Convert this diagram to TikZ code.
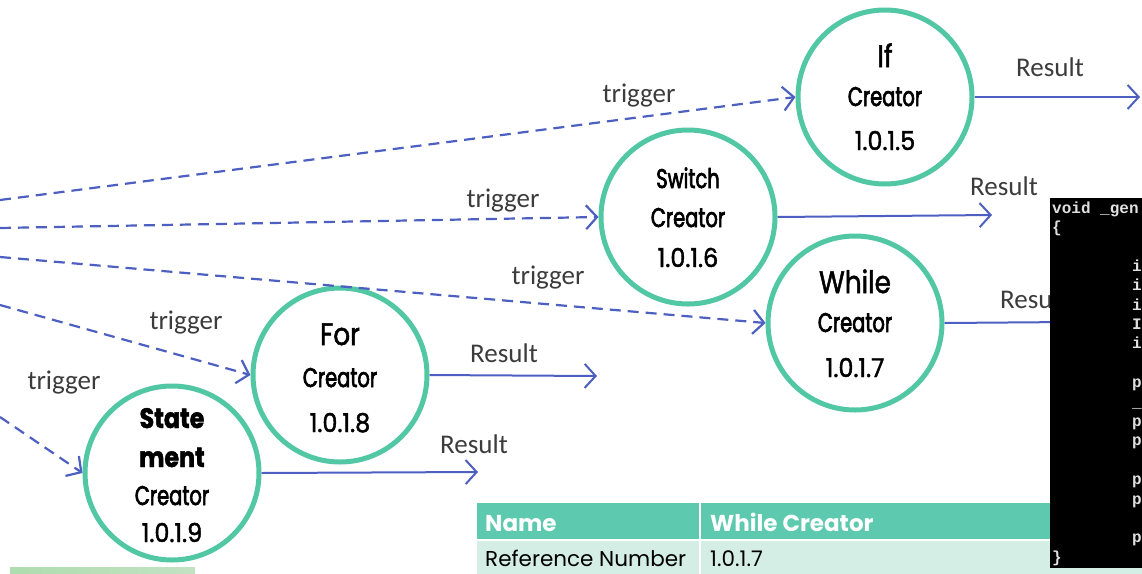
\documentclass[tikz,border=0pt]{standalone}
\usepackage{fontspec}
\usetikzlibrary{arrows.meta}

% fonts
\newfontfamily\lblfont{Carlito}
\newfontfamily\wordfont[FakeStretch=0.85,FakeBold=1.6]{Poppins}
\newfontfamily\crtfont[FakeStretch=0.72,FakeBold=2.4]{Poppins}
\newfontfamily\numfont[FakeStretch=0.92,FakeBold=1.6]{Poppins}
\newfontfamily\tabfont{Poppins}
\newfontfamily\codefont{Liberation Mono}

% colours
\definecolor{ringteal}{HTML}{52C7A4}
\definecolor{flowblue}{HTML}{4D5FC1}
\definecolor{labelgray}{HTML}{3C3C3C}
\definecolor{headteal}{HTML}{5DC9AE}
\definecolor{rowteal}{HTML}{D4EEE5}

\tikzset{
  proc/.style={circle, draw=ringteal, line width=5pt, fill=white,
               minimum size=174pt, inner sep=0pt},
  trig/.style={draw=flowblue, line width=2.2pt, dash pattern=on 11pt off 7pt,
               -{Straight Barb[length=11pt,width=24pt]}},
  res/.style={draw=flowblue, line width=2pt,
              -{Straight Barb[length=11pt,width=24pt]}},
  lbl/.style={font=\lblfont\fontsize{27}{30}\selectfont, text=labelgray, inner sep=0pt},
  bigword/.style={font=\wordfont\fontsize{31}{33}\selectfont, anchor=base, inner sep=0pt},
  boldword/.style={font=\wordfont\bfseries\fontsize{28}{30}\selectfont, anchor=base, inner sep=0pt},
  crt/.style={font=\crtfont\fontsize{27}{29}\selectfont, anchor=base, inner sep=0pt},
  swt/.style={font=\crtfont\fontsize{27}{29}\selectfont, anchor=base, inner sep=0pt},
  num/.style={font=\numfont\fontsize{26}{28}\selectfont, anchor=base, inner sep=0pt},
  headtxt/.style={font=\tabfont\bfseries\fontsize{23}{25}\selectfont, text=white,
                  anchor=base west, inner sep=0pt},
  celltxt/.style={font=\tabfont\fontsize{21.5}{24}\selectfont, text=black,
                  anchor=base west, inner sep=0pt},
  codetxt/.style={font=\codefont\bfseries\fontsize{16}{18}\selectfont, text=white!88!black,
                  anchor=base west, inner sep=0pt},
}

\begin{document}
\begin{tikzpicture}[x=1pt,y=-1pt]
\useasboundingbox (0,0) rectangle (1142,573);
\clip (0,0) rectangle (1142,573);
\fill[white] (0,0) rectangle (1142,573);

% strip of a photo at the lower left
\shade[left color=green!40!gray!45!white, middle color=yellow!60!green!55!white, right color=green!35!gray!35!white]
  (10,567) rectangle (195,574);

% property table
\fill[headteal] (477,503) rectangle (1142,539);
\fill[rowteal] (477,541) rectangle (1142,574);
\fill[white] (699,503) rectangle (701,574);
\node[headtxt] (hname) at (485,531) {Name};
\node[headtxt] (hval) at (710,531) {While Creator};
\node[celltxt] (cname) at (485,566) {Reference Number};
\node[celltxt] (cval) at (710,566) {1.0.1.7};

% free ends of the connectors
\coordinate (s1) at (0,200);
\coordinate (s2) at (0,228);
\coordinate (s3) at (0,257);
\coordinate (s4) at (0,305);
\coordinate (s5) at (0,417);
\coordinate (e1) at (1140,97);
\coordinate (e2) at (992,215);
\coordinate (e3) at (1070,322);
\coordinate (e4) at (597,376);
\coordinate (e5) at (478,472);

% creators
\node[proc] (ifc) at (885,97) {};
\node[proc] (swc) at (688,217) {};
\node[proc] (whc) at (855,323) {};
\node[proc] (forc) at (340,375) {};
\node[proc] (stc) at (172,473) {};

% trigger connectors
\draw[trig] (s1) -- (ifc.west);
\draw[trig] (s2) -- (swc.west);
\draw[trig] (s3) -- (whc.west);
\draw[trig] (s4) -- (forc.west);
\draw[trig] (s5) -- (stc.west);

% result connectors
\draw[res] (ifc.east) -- (e1);
\draw[res] (swc.east) -- (e2);
\draw[res] (whc.east) -- (e3);
\draw[res] (forc.east) -- (e4);
\draw[res] (stc.east) -- (e5);

% connector labels
\node[lbl] (t1) at (639,96) {trigger};
\node[lbl] (t2) at (503,201) {trigger};
\node[lbl] (t3) at (548,278) {trigger};
\node[lbl] (t4) at (186,323) {trigger};
\node[lbl] (t5) at (64,383) {trigger};
\node[lbl] (r1) at (1050,67) {Result};
\node[lbl] (r2) at (1004,186) {Result};
\node[lbl] (r3) at (1034,299) {Result};
\node[lbl] (r4) at (504,353) {Result};
\node[lbl] (r5) at (474,444) {Result};

% texts inside the creators
\node[bigword] (if1) at (885,67) {If};
\node[crt] (if2) at (885,106) {Creator};
\node[num] (if3) at (885,150) {1.0.1.5};

\node[swt] (sw1) at (688,188) {Switch};
\node[crt] (sw2) at (688,227) {Creator};
\node[num] (sw3) at (688,267) {1.0.1.6};

\node[bigword] (wh1) at (855,293) {While};
\node[crt] (wh2) at (855,332) {Creator};
\node[num] (wh3) at (855,377) {1.0.1.7};

\node[bigword] (fo1) at (340,345) {For};
\node[crt] (fo2) at (340,387) {Creator};
\node[num] (fo3) at (340,432) {1.0.1.8};

\node[boldword] (st1) at (172,428) {State};
\node[boldword] (st2) at (172,467) {ment};
\node[crt] (st3) at (172,505) {Creator};
\node[num] (st4) at (172,542) {1.0.1.9};

% console window with source code
\fill[black] (1050,198) rectangle (1142,568);
\node[codetxt] (c0) at (1052,213) {void \_gen};
\node[codetxt] (c1) at (1052,232.4) {\{};
\node[codetxt] (c3) at (1132,271.2) {i};
\node[codetxt] (c4) at (1132,290.6) {i};
\node[codetxt] (c5) at (1132,310) {i};
\node[codetxt] (c6) at (1132,329.4) {I};
\node[codetxt] (c7) at (1132,348.8) {i};
\node[codetxt] (c9) at (1132,387.6) {p};
\node[codetxt] (c10) at (1132,407) {\_};
\node[codetxt] (c11) at (1132,426.4) {p};
\node[codetxt] (c12) at (1132,445.8) {p};
\node[codetxt] (c14) at (1132,484.6) {p};
\node[codetxt] (c15) at (1132,504) {p};
\node[codetxt] (c17) at (1132,542.8) {p};
\node[codetxt] (c18) at (1052,562.2) {\}};
\end{tikzpicture}
\end{document}
